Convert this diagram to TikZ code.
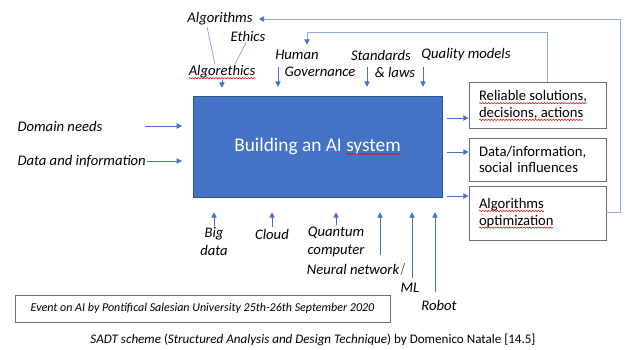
\documentclass[tikz,border=0pt]{standalone}
\usepackage{fontspec}
\setmainfont{Carlito}
\usetikzlibrary{arrows.meta,decorations.pathmorphing}
\definecolor{sysblue}{HTML}{4472C4}
\definecolor{linkblue}{HTML}{8FAADC}
\definecolor{boxgray}{HTML}{6E6E6E}
% red spell-check wave under a word
\newcommand\spell[1]{\tikz[baseline=(w.base),x=1pt,y=1pt]{%
  \node[inner sep=0pt,outer sep=0pt,draw=none,fill=none,minimum width=0pt,minimum height=0pt,
    text width=,align=none,font=] (w) {#1};%
  \draw[overlay,red,line width=0.4pt,decorate,decoration={snake,amplitude=0.5pt,segment length=2.2pt}]
    ([yshift=-1.8pt]w.base west) -- ([yshift=-1.8pt]w.base east);}}
\begin{document}
\begin{tikzpicture}[x=0.75pt,y=-0.75pt,
  arr/.style={-{Triangle[length=4pt,width=4pt]},sysblue,line width=0.6pt},
  link/.style={linkblue,line width=0.6pt},
  lbl/.style={font=\fontsize{11}{13.5}\selectfont\itshape,inner sep=1pt,align=center},
  outbox/.style={draw=boxgray,line width=0.6pt,minimum width=102.75pt,text width=87.75pt,
    inner xsep=7.5pt,align=left,font=\fontsize{11}{12.5}\selectfont}]
  \useasboundingbox (0,0) rectangle (625,350);

  \node[draw=sysblue!70!black,fill=sysblue,minimum width=186.75pt,minimum height=75.75pt,
    text=white,font=\fontsize{14.5}{17}\selectfont] (sys) at (317.5,146.5) {Building an AI \spell{system}};

  \node[outbox,minimum height=34.5pt] (out1) at (537.5,105) {\spell{Reliable solutions,}\\\spell{decisions, actions}};
  \node[outbox,minimum height=32.25pt] (out2) at (537.5,159.5) {Data/information,\\social influences};
  \node[outbox,minimum height=40.5pt] (out3) at (537.5,213) {\spell{Algorithms}\\\spell{optimization}};

  \begin{scope}[every node/.style=lbl]
    \node (alg) at (220,19) {Algorithms};
    \node (eth) at (248,36) {Ethics};
    \node (aeth) at (222,72) {\spell{Algorethics}};
    \node (hum) at (297,55) {Human};
    \node (gov) at (320,72) {Governance};
    \node (std) at (381,55) {Standards};
    \node (law) at (395,72) {\& laws};
    \node (qual) at (466,55) {Quality models};
    \node[anchor=west] (dom) at (16,126) {Domain needs};
    \node[anchor=west] (dat) at (16,161) {Data and information};
    \node (big) at (214,242) {Big\\data};
    \node (cld) at (272,234) {Cloud};
    \node (qc) at (336,242) {Quantum\\computer};
    \node (nn) at (353,269) {Neural network};
    \node (ml) at (410,288) {ML};
    \node (rob) at (439,305) {Robot};
  \end{scope}

  \node[draw=boxgray,line width=0.6pt,minimum width=281.25pt,minimum height=20.25pt,
    font=\fontsize{9}{11}\selectfont\itshape] (event) at (202.5,308.5)
    {Event on AI by Pontifical Salesian University 25th-26th September 2020};
  \node[font=\fontsize{9.8}{11}\selectfont] (cap) at (313,340)
    {\textit{SADT scheme} (\textit{Structured Analysis and Design Technique}) by Domenico Natale [14.5]};

  % algorethics
  \draw[link] ([xshift=-9.75pt]alg.south) -- ([xshift=-5.25pt]aeth.north);
  \draw[link] ([xshift=-1.5pt]eth.south) -- ([xshift=9.75pt]aeth.north);

  % inputs
  \draw[arr,shorten <=30.75pt,shorten >=8pt] (dom.east) -- (dom.east -| sys.west);
  \draw[arr,shorten >=8pt] (dat.east) -- (dat.east -| sys.west);

  % controls
  \coordinate (govin) at (278,67);
  \coordinate (stdin) at (367,67);
  \coordinate (qualin) at (423,67);
  \draw[arr,shorten >=6pt] (aeth.south) -- (aeth.south |- sys.north);
  \foreach \c in {govin,stdin,qualin} {
    \draw[arr,shorten >=6.75pt] (\c) -- (\c |- sys.north);
  }

  % mechanisms
  \coordinate (nnin) at (380,255);
  \coordinate (mlin) at (412,278);
  \coordinate (robin) at (435,292);
  \foreach \c in {big,cld,qc} {
    \draw[arr,shorten >=11.25pt] (\c.north) -- (\c.north |- sys.south);
  }
  \foreach \c in {nnin,mlin,robin} {
    \draw[arr,shorten >=11.25pt] (\c) -- (\c |- sys.south);
  }
  \draw[black!70,line width=0.5pt] ([yshift=-4.5pt]nn.east) -- ++(4,-12);

  % outputs
  \coordinate (o1) at ([yshift=-9.75pt]out1.west);
  \coordinate (o2) at ([yshift=5.6pt]out2.west);
  \coordinate (o3) at ([yshift=12.75pt]out3.west);
  \foreach \c in {o1,o2,o3} {
    \draw[arr,shorten <=3.5pt] (\c -| sys.east) -- (\c);
  }

  % feedback
  \draw[link,-{Triangle[length=4pt,width=4pt,color=sysblue]},shorten >=3.5pt]
    ([yshift=0.75pt]out3.east) -- ++(14,0) |- (alg.east);
  \draw[link,-{Triangle[length=4pt,width=4pt,color=sysblue]},shorten >=3pt]
    ([xshift=7.1pt]out1.north) -- ++(0,-49) -| ([xshift=7.5pt]hum.north);
\end{tikzpicture}
\end{document}
